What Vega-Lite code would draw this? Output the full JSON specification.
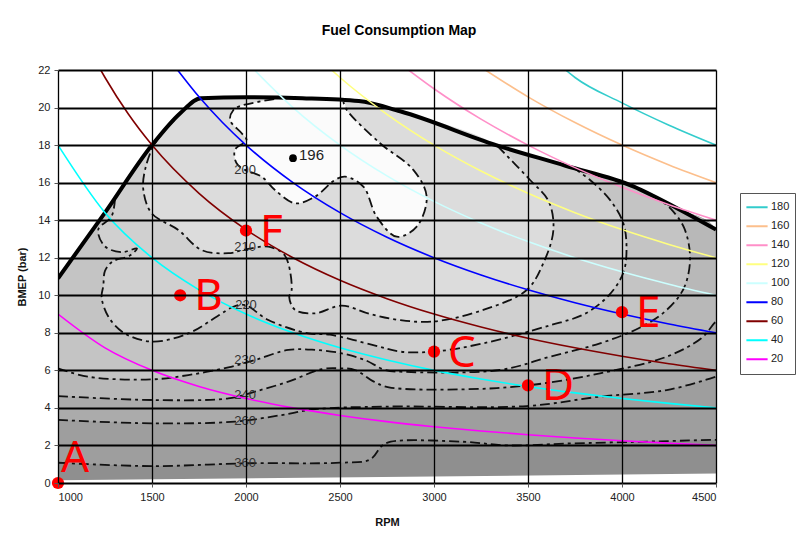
{
  "$schema": "https://vega.github.io/schema/vega-lite/v6.json",
  "width": 658,
  "height": 413,
  "autosize": {"type": "none"},
  "padding": {"left": 58, "top": 70, "right": 84, "bottom": 62},
  "background": "white",
  "config": {"font": "Liberation Sans", "view": {"stroke": null}},
  "title": {"text": "Fuel Consumption Map", "fontSize": 14, "fontWeight": "bold", "color": "#000", "offset": 26, "dx": 12, "font": "Liberation Sans"},
  "datasets": {
    "shapes": [
      {"s":"p0","i":0,"rpm":1000,"bmep":0.15,"c":0},
      {"s":"p0","i":1,"rpm":1000,"bmep":10.9,"c":0},
      {"s":"p0","i":2,"rpm":1250,"bmep":14.4,"c":0},
      {"s":"p0","i":3,"rpm":1500,"bmep":18.0,"c":0},
      {"s":"p0","i":4,"rpm":1650,"bmep":19.7,"c":0},
      {"s":"p0","i":5,"rpm":1760,"bmep":20.5,"c":0},
      {"s":"p0","i":6,"rpm":2000,"bmep":20.55,"c":0},
      {"s":"p0","i":7,"rpm":2300,"bmep":20.5,"c":0},
      {"s":"p0","i":8,"rpm":2600,"bmep":20.35,"c":0},
      {"s":"p0","i":9,"rpm":2820,"bmep":19.8,"c":0},
      {"s":"p0","i":10,"rpm":3330,"bmep":18.0,"c":0},
      {"s":"p0","i":11,"rpm":3700,"bmep":16.9,"c":0},
      {"s":"p0","i":12,"rpm":4060,"bmep":15.8,"c":0},
      {"s":"p0","i":13,"rpm":4165,"bmep":15.3,"c":0},
      {"s":"p0","i":14,"rpm":4300,"bmep":14.6,"c":0},
      {"s":"p0","i":15,"rpm":4500,"bmep":13.5,"c":0},
      {"s":"p0","i":16,"rpm":4500,"bmep":0.5,"c":0},

      {"s":"p360","i":0,"rpm":1000,"bmep":1.08,"c":1},
      {"s":"p360","i":1,"rpm":1500,"bmep":0.9,"c":1},
      {"s":"p360","i":2,"rpm":2000,"bmep":1.05,"c":1},
      {"s":"p360","i":3,"rpm":2500,"bmep":1.08,"c":1},
      {"s":"p360","i":4,"rpm":2660,"bmep":1.25,"c":1},
      {"s":"p360","i":5,"rpm":2720,"bmep":1.95,"c":1},
      {"s":"p360","i":6,"rpm":2770,"bmep":2.2,"c":1},
      {"s":"p360","i":7,"rpm":3150,"bmep":2.2,"c":1},
      {"s":"p360","i":8,"rpm":3400,"bmep":2.0,"c":1},
      {"s":"p360","i":9,"rpm":3700,"bmep":2.1,"c":1},
      {"s":"p360","i":10,"rpm":4200,"bmep":2.22,"c":1},
      {"s":"p360","i":11,"rpm":4480,"bmep":2.3,"c":1},
      {"s":"p360","i":12,"rpm":4500,"bmep":2.3,"c":1},
      {"s":"p360","i":13,"rpm":4500,"bmep":13.5,"c":0},
      {"s":"p360","i":14,"rpm":4300,"bmep":14.6,"c":0},
      {"s":"p360","i":15,"rpm":4165,"bmep":15.3,"c":0},
      {"s":"p360","i":16,"rpm":4060,"bmep":15.8,"c":0},
      {"s":"p360","i":17,"rpm":3700,"bmep":16.9,"c":0},
      {"s":"p360","i":18,"rpm":3330,"bmep":18.0,"c":0},
      {"s":"p360","i":19,"rpm":2820,"bmep":19.8,"c":0},
      {"s":"p360","i":20,"rpm":2600,"bmep":20.35,"c":0},
      {"s":"p360","i":21,"rpm":2300,"bmep":20.5,"c":0},
      {"s":"p360","i":22,"rpm":2000,"bmep":20.55,"c":0},
      {"s":"p360","i":23,"rpm":1760,"bmep":20.5,"c":0},
      {"s":"p360","i":24,"rpm":1650,"bmep":19.7,"c":0},
      {"s":"p360","i":25,"rpm":1500,"bmep":18.0,"c":0},
      {"s":"p360","i":26,"rpm":1250,"bmep":14.4,"c":0},
      {"s":"p360","i":27,"rpm":1000,"bmep":10.9,"c":0},

      {"s":"p260","i":0,"rpm":1000,"bmep":3.36,"c":1},
      {"s":"p260","i":1,"rpm":1500,"bmep":3.18,"c":1},
      {"s":"p260","i":2,"rpm":1941,"bmep":3.27,"c":1},
      {"s":"p260","i":3,"rpm":2190,"bmep":3.62,"c":1},
      {"s":"p260","i":4,"rpm":2367,"bmep":3.93,"c":1},
      {"s":"p260","i":5,"rpm":2739,"bmep":4.07,"c":1},
      {"s":"p260","i":6,"rpm":3493,"bmep":4.1,"c":1},
      {"s":"p260","i":7,"rpm":3883,"bmep":4.6,"c":1},
      {"s":"p260","i":8,"rpm":4238,"bmep":4.95,"c":1},
      {"s":"p260","i":9,"rpm":4480,"bmep":5.6,"c":1},
      {"s":"p260","i":10,"rpm":4500,"bmep":5.66,"c":1},
      {"s":"p260","i":11,"rpm":4500,"bmep":13.5,"c":0},
      {"s":"p260","i":12,"rpm":4300,"bmep":14.6,"c":0},
      {"s":"p260","i":13,"rpm":4165,"bmep":15.3,"c":0},
      {"s":"p260","i":14,"rpm":4060,"bmep":15.8,"c":0},
      {"s":"p260","i":15,"rpm":3700,"bmep":16.9,"c":0},
      {"s":"p260","i":16,"rpm":3330,"bmep":18.0,"c":0},
      {"s":"p260","i":17,"rpm":2820,"bmep":19.8,"c":0},
      {"s":"p260","i":18,"rpm":2600,"bmep":20.35,"c":0},
      {"s":"p260","i":19,"rpm":2300,"bmep":20.5,"c":0},
      {"s":"p260","i":20,"rpm":2000,"bmep":20.55,"c":0},
      {"s":"p260","i":21,"rpm":1760,"bmep":20.5,"c":0},
      {"s":"p260","i":22,"rpm":1650,"bmep":19.7,"c":0},
      {"s":"p260","i":23,"rpm":1500,"bmep":18.0,"c":0},
      {"s":"p260","i":24,"rpm":1250,"bmep":14.4,"c":0},
      {"s":"p260","i":25,"rpm":1000,"bmep":10.9,"c":0},

      {"s":"p240","i":0,"rpm":1000,"bmep":4.63,"c":1},
      {"s":"p240","i":1,"rpm":1500,"bmep":4.42,"c":1},
      {"s":"p240","i":2,"rpm":1906,"bmep":4.51,"c":1},
      {"s":"p240","i":3,"rpm":2048,"bmep":4.87,"c":1},
      {"s":"p240","i":4,"rpm":2225,"bmep":5.4,"c":1},
      {"s":"p240","i":5,"rpm":2402,"bmep":6.06,"c":1},
      {"s":"p240","i":6,"rpm":2489,"bmep":6.11,"c":1},
      {"s":"p240","i":7,"rpm":2580,"bmep":6.02,"c":1},
      {"s":"p240","i":8,"rpm":2680,"bmep":5.4,"c":1},
      {"s":"p240","i":9,"rpm":2760,"bmep":5.1,"c":1},
      {"s":"p240","i":10,"rpm":3156,"bmep":4.99,"c":1},
      {"s":"p240","i":11,"rpm":3500,"bmep":5.2,"c":1},
      {"s":"p240","i":12,"rpm":3883,"bmep":5.84,"c":1},
      {"s":"p240","i":13,"rpm":4238,"bmep":6.73,"c":1},
      {"s":"p240","i":14,"rpm":4420,"bmep":7.7,"c":1},
      {"s":"p240","i":15,"rpm":4490,"bmep":8.5,"c":1},
      {"s":"p240","i":16,"rpm":4500,"bmep":8.6,"c":1},
      {"s":"p240","i":17,"rpm":4500,"bmep":13.5,"c":0},
      {"s":"p240","i":18,"rpm":4300,"bmep":14.6,"c":0},
      {"s":"p240","i":19,"rpm":4165,"bmep":15.3,"c":0},
      {"s":"p240","i":20,"rpm":4060,"bmep":15.8,"c":0},
      {"s":"p240","i":21,"rpm":3700,"bmep":16.9,"c":0},
      {"s":"p240","i":22,"rpm":3330,"bmep":18.0,"c":0},
      {"s":"p240","i":23,"rpm":2820,"bmep":19.8,"c":0},
      {"s":"p240","i":24,"rpm":2600,"bmep":20.35,"c":0},
      {"s":"p240","i":25,"rpm":2300,"bmep":20.5,"c":0},
      {"s":"p240","i":26,"rpm":2000,"bmep":20.55,"c":0},
      {"s":"p240","i":27,"rpm":1760,"bmep":20.5,"c":0},
      {"s":"p240","i":28,"rpm":1650,"bmep":19.7,"c":0},
      {"s":"p240","i":29,"rpm":1500,"bmep":18.0,"c":0},
      {"s":"p240","i":30,"rpm":1250,"bmep":14.4,"c":0},
      {"s":"p240","i":31,"rpm":1000,"bmep":10.9,"c":0},

      {"s":"p230","i":0,"rpm":1000,"bmep":6.11,"c":1},
      {"s":"p230","i":1,"rpm":1161,"bmep":5.66,"c":1},
      {"s":"p230","i":2,"rpm":1500,"bmep":5.52,"c":1},
      {"s":"p230","i":3,"rpm":1693,"bmep":5.75,"c":1},
      {"s":"p230","i":4,"rpm":1906,"bmep":6.16,"c":1},
      {"s":"p230","i":5,"rpm":2048,"bmep":6.55,"c":1},
      {"s":"p230","i":6,"rpm":2225,"bmep":7.09,"c":1},
      {"s":"p230","i":7,"rpm":2367,"bmep":7.09,"c":1},
      {"s":"p230","i":8,"rpm":2509,"bmep":6.91,"c":1},
      {"s":"p230","i":9,"rpm":2633,"bmep":6.55,"c":1},
      {"s":"p230","i":10,"rpm":2739,"bmep":6.02,"c":1},
      {"s":"p230","i":11,"rpm":2819,"bmep":5.93,"c":1},
      {"s":"p230","i":12,"rpm":3351,"bmep":6.02,"c":1},
      {"s":"p230","i":13,"rpm":3617,"bmep":6.73,"c":1},
      {"s":"p230","i":14,"rpm":3883,"bmep":7.44,"c":1},
      {"s":"p230","i":15,"rpm":4100,"bmep":8.3,"c":1},
      {"s":"p230","i":16,"rpm":4238,"bmep":9.22,"c":1},
      {"s":"p230","i":17,"rpm":4330,"bmep":10.4,"c":1},
      {"s":"p230","i":18,"rpm":4362,"bmep":12.0,"c":1},
      {"s":"p230","i":19,"rpm":4330,"bmep":13.6,"c":1},
      {"s":"p230","i":20,"rpm":4260,"bmep":14.6,"c":1},
      {"s":"p230","i":21,"rpm":4195,"bmep":15.15,"c":1},
      {"s":"p230","i":22,"rpm":4060,"bmep":15.8,"c":0},
      {"s":"p230","i":23,"rpm":3700,"bmep":16.9,"c":0},
      {"s":"p230","i":24,"rpm":3330,"bmep":18.0,"c":0},
      {"s":"p230","i":25,"rpm":2820,"bmep":19.8,"c":0},
      {"s":"p230","i":26,"rpm":2600,"bmep":20.35,"c":0},
      {"s":"p230","i":27,"rpm":2300,"bmep":20.5,"c":0},
      {"s":"p230","i":28,"rpm":2000,"bmep":20.55,"c":0},
      {"s":"p230","i":29,"rpm":1760,"bmep":20.5,"c":0},
      {"s":"p230","i":30,"rpm":1650,"bmep":19.7,"c":0},
      {"s":"p230","i":31,"rpm":1500,"bmep":18.0,"c":0},
      {"s":"p230","i":32,"rpm":1250,"bmep":14.4,"c":0},
      {"s":"p230","i":33,"rpm":1000,"bmep":10.9,"c":0},

      {"s":"p220","i":0,"rpm":1303,"bmep":15.15,"c":1},
      {"s":"p220","i":1,"rpm":1285,"bmep":14.2,"c":1},
      {"s":"p220","i":2,"rpm":1214,"bmep":13.5,"c":1},
      {"s":"p220","i":3,"rpm":1250,"bmep":12.6,"c":1},
      {"s":"p220","i":4,"rpm":1339,"bmep":12.3,"c":1},
      {"s":"p220","i":5,"rpm":1420,"bmep":12.5,"c":1},
      {"s":"p220","i":6,"rpm":1380,"bmep":12.1,"c":1},
      {"s":"p220","i":7,"rpm":1290,"bmep":11.8,"c":1},
      {"s":"p220","i":8,"rpm":1250,"bmep":11.3,"c":1},
      {"s":"p220","i":9,"rpm":1241,"bmep":10.5,"c":1},
      {"s":"p220","i":10,"rpm":1232,"bmep":9.9,"c":1},
      {"s":"p220","i":11,"rpm":1268,"bmep":8.86,"c":1},
      {"s":"p220","i":12,"rpm":1350,"bmep":8.0,"c":1},
      {"s":"p220","i":13,"rpm":1500,"bmep":7.53,"c":1},
      {"s":"p220","i":14,"rpm":1693,"bmep":7.97,"c":1},
      {"s":"p220","i":15,"rpm":1850,"bmep":8.9,"c":1},
      {"s":"p220","i":16,"rpm":1933,"bmep":9.39,"c":1},
      {"s":"p220","i":17,"rpm":1995,"bmep":9.48,"c":1},
      {"s":"p220","i":18,"rpm":2119,"bmep":8.68,"c":1},
      {"s":"p220","i":19,"rpm":2331,"bmep":7.97,"c":1},
      {"s":"p220","i":20,"rpm":2447,"bmep":7.9,"c":1},
      {"s":"p220","i":21,"rpm":2677,"bmep":7.35,"c":1},
      {"s":"p220","i":22,"rpm":2819,"bmep":7.0,"c":1},
      {"s":"p220","i":23,"rpm":3000,"bmep":7.0,"c":1},
      {"s":"p220","i":24,"rpm":3262,"bmep":7.44,"c":1},
      {"s":"p220","i":25,"rpm":3617,"bmep":8.4,"c":1},
      {"s":"p220","i":26,"rpm":3800,"bmep":9.0,"c":1},
      {"s":"p220","i":27,"rpm":3930,"bmep":10.0,"c":1},
      {"s":"p220","i":28,"rpm":4007,"bmep":11.2,"c":1},
      {"s":"p220","i":29,"rpm":4024,"bmep":12.4,"c":1},
      {"s":"p220","i":30,"rpm":4007,"bmep":13.84,"c":1},
      {"s":"p220","i":31,"rpm":3936,"bmep":15.08,"c":1},
      {"s":"p220","i":32,"rpm":3830,"bmep":16.14,"c":1},
      {"s":"p220","i":33,"rpm":3740,"bmep":16.8,"c":1},
      {"s":"p220","i":34,"rpm":3700,"bmep":16.9,"c":0},
      {"s":"p220","i":35,"rpm":3330,"bmep":18.0,"c":0},
      {"s":"p220","i":36,"rpm":2820,"bmep":19.8,"c":0},
      {"s":"p220","i":37,"rpm":2600,"bmep":20.35,"c":0},
      {"s":"p220","i":38,"rpm":2300,"bmep":20.5,"c":0},
      {"s":"p220","i":39,"rpm":2000,"bmep":20.55,"c":0},
      {"s":"p220","i":40,"rpm":1760,"bmep":20.5,"c":0},
      {"s":"p220","i":41,"rpm":1650,"bmep":19.7,"c":0},
      {"s":"p220","i":42,"rpm":1500,"bmep":18.0,"c":0},

      {"s":"p210","i":0,"rpm":1620,"bmep":19.35,"c":1},
      {"s":"p210","i":1,"rpm":1516,"bmep":18.1,"c":1},
      {"s":"p210","i":2,"rpm":1463,"bmep":16.68,"c":1},
      {"s":"p210","i":3,"rpm":1454,"bmep":15.61,"c":1},
      {"s":"p210","i":4,"rpm":1498,"bmep":14.37,"c":1},
      {"s":"p210","i":5,"rpm":1640,"bmep":13.48,"c":1},
      {"s":"p210","i":6,"rpm":1764,"bmep":12.41,"c":1},
      {"s":"p210","i":7,"rpm":1906,"bmep":12.24,"c":1},
      {"s":"p210","i":8,"rpm":2000,"bmep":12.45,"c":1},
      {"s":"p210","i":9,"rpm":2119,"bmep":12.59,"c":1},
      {"s":"p210","i":10,"rpm":2200,"bmep":12.2,"c":1},
      {"s":"p210","i":11,"rpm":2225,"bmep":11.7,"c":1},
      {"s":"p210","i":12,"rpm":2243,"bmep":10.3,"c":1},
      {"s":"p210","i":13,"rpm":2230,"bmep":9.9,"c":1},
      {"s":"p210","i":14,"rpm":2261,"bmep":9.22,"c":1},
      {"s":"p210","i":15,"rpm":2367,"bmep":9.04,"c":1},
      {"s":"p210","i":16,"rpm":2509,"bmep":9.45,"c":1},
      {"s":"p210","i":17,"rpm":2660,"bmep":9.0,"c":1},
      {"s":"p210","i":18,"rpm":2819,"bmep":8.68,"c":1},
      {"s":"p210","i":19,"rpm":2995,"bmep":8.6,"c":1},
      {"s":"p210","i":20,"rpm":3262,"bmep":9.22,"c":1},
      {"s":"p210","i":21,"rpm":3493,"bmep":10.28,"c":1},
      {"s":"p210","i":22,"rpm":3581,"bmep":11.7,"c":1},
      {"s":"p210","i":23,"rpm":3635,"bmep":13.48,"c":1},
      {"s":"p210","i":24,"rpm":3610,"bmep":15.0,"c":1},
      {"s":"p210","i":25,"rpm":3511,"bmep":16.14,"c":1},
      {"s":"p210","i":26,"rpm":3333,"bmep":18.0,"c":1},
      {"s":"p210","i":27,"rpm":2820,"bmep":19.8,"c":0},
      {"s":"p210","i":28,"rpm":2600,"bmep":20.35,"c":0},
      {"s":"p210","i":29,"rpm":2300,"bmep":20.5,"c":0},
      {"s":"p210","i":30,"rpm":2000,"bmep":20.55,"c":0},
      {"s":"p210","i":31,"rpm":1760,"bmep":20.5,"c":0},
      {"s":"p210","i":32,"rpm":1650,"bmep":19.7,"c":0},

      {"s":"p200","i":0,"rpm":2150,"bmep":20.45,"c":1},
      {"s":"p200","i":1,"rpm":1968,"bmep":20.08,"c":1},
      {"s":"p200","i":2,"rpm":1933,"bmep":19.87,"c":1},
      {"s":"p200","i":3,"rpm":1915,"bmep":19.34,"c":1},
      {"s":"p200","i":4,"rpm":1977,"bmep":18.63,"c":1},
      {"s":"p200","i":5,"rpm":2003,"bmep":18.27,"c":1},
      {"s":"p200","i":6,"rpm":1941,"bmep":17.74,"c":1},
      {"s":"p200","i":7,"rpm":1950,"bmep":17.03,"c":1},
      {"s":"p200","i":8,"rpm":1995,"bmep":16.68,"c":1},
      {"s":"p200","i":9,"rpm":2083,"bmep":16.32,"c":1},
      {"s":"p200","i":10,"rpm":2154,"bmep":15.61,"c":1},
      {"s":"p200","i":11,"rpm":2261,"bmep":14.9,"c":1},
      {"s":"p200","i":12,"rpm":2367,"bmep":15.25,"c":1},
      {"s":"p200","i":13,"rpm":2473,"bmep":16.14,"c":1},
      {"s":"p200","i":14,"rpm":2527,"bmep":16.32,"c":1},
      {"s":"p200","i":15,"rpm":2624,"bmep":15.79,"c":1},
      {"s":"p200","i":16,"rpm":2695,"bmep":14.19,"c":1},
      {"s":"p200","i":17,"rpm":2802,"bmep":13.12,"c":1},
      {"s":"p200","i":18,"rpm":2908,"bmep":13.66,"c":1},
      {"s":"p200","i":19,"rpm":2961,"bmep":15.25,"c":1},
      {"s":"p200","i":20,"rpm":2890,"bmep":16.68,"c":1},
      {"s":"p200","i":21,"rpm":2713,"bmep":18.1,"c":1},
      {"s":"p200","i":22,"rpm":2536,"bmep":19.87,"c":1},
      {"s":"p200","i":23,"rpm":2518,"bmep":20.3,"c":1},
      {"s":"p200","i":24,"rpm":2300,"bmep":20.5,"c":0}
    ],
    "boundary": [
      {"rpm":1000,"bmep":10.9},{"rpm":1250,"bmep":14.4},{"rpm":1500,"bmep":18.0},{"rpm":1650,"bmep":19.7},
      {"rpm":1760,"bmep":20.5},{"rpm":2000,"bmep":20.55},{"rpm":2300,"bmep":20.5},{"rpm":2600,"bmep":20.35},
      {"rpm":2820,"bmep":19.8},{"rpm":3330,"bmep":18.0},{"rpm":3700,"bmep":16.9},{"rpm":4060,"bmep":15.8},
      {"rpm":4165,"bmep":15.3},{"rpm":4300,"bmep":14.6},{"rpm":4500,"bmep":13.5}
    ],
    "power": [
      {"p":"20","rpm":1000,"bmep":9},{"p":"20","rpm":1250,"bmep":7.2},{"p":"20","rpm":1500,"bmep":6},{"p":"20","rpm":1750,"bmep":5.14},{"p":"20","rpm":2000,"bmep":4.5},{"p":"20","rpm":2250,"bmep":4},{"p":"20","rpm":2500,"bmep":3.6},{"p":"20","rpm":2750,"bmep":3.27},{"p":"20","rpm":3000,"bmep":3},{"p":"20","rpm":3250,"bmep":2.77},{"p":"20","rpm":3500,"bmep":2.57},{"p":"20","rpm":3750,"bmep":2.4},{"p":"20","rpm":4000,"bmep":2.25},{"p":"20","rpm":4250,"bmep":2.12},{"p":"20","rpm":4500,"bmep":2},
      {"p":"40","rpm":1000,"bmep":18},{"p":"40","rpm":1250,"bmep":14.4},{"p":"40","rpm":1500,"bmep":12},{"p":"40","rpm":1750,"bmep":10.29},{"p":"40","rpm":2000,"bmep":9},{"p":"40","rpm":2250,"bmep":8},{"p":"40","rpm":2500,"bmep":7.2},{"p":"40","rpm":2750,"bmep":6.55},{"p":"40","rpm":3000,"bmep":6},{"p":"40","rpm":3250,"bmep":5.54},{"p":"40","rpm":3500,"bmep":5.14},{"p":"40","rpm":3750,"bmep":4.8},{"p":"40","rpm":4000,"bmep":4.5},{"p":"40","rpm":4250,"bmep":4.24},{"p":"40","rpm":4500,"bmep":4},
      {"p":"60","rpm":1227,"bmep":22},{"p":"60","rpm":1250,"bmep":21.6},{"p":"60","rpm":1375,"bmep":19.64},{"p":"60","rpm":1500,"bmep":18},{"p":"60","rpm":1750,"bmep":15.43},{"p":"60","rpm":2000,"bmep":13.5},{"p":"60","rpm":2250,"bmep":12},{"p":"60","rpm":2500,"bmep":10.8},{"p":"60","rpm":2750,"bmep":9.82},{"p":"60","rpm":3000,"bmep":9},{"p":"60","rpm":3250,"bmep":8.31},{"p":"60","rpm":3500,"bmep":7.71},{"p":"60","rpm":3750,"bmep":7.2},{"p":"60","rpm":4000,"bmep":6.75},{"p":"60","rpm":4250,"bmep":6.35},{"p":"60","rpm":4500,"bmep":6},
      {"p":"80","rpm":1636,"bmep":22},{"p":"80","rpm":1750,"bmep":20.57},{"p":"80","rpm":1875,"bmep":19.2},{"p":"80","rpm":2000,"bmep":18},{"p":"80","rpm":2250,"bmep":16},{"p":"80","rpm":2500,"bmep":14.4},{"p":"80","rpm":2750,"bmep":13.09},{"p":"80","rpm":3000,"bmep":12},{"p":"80","rpm":3250,"bmep":11.08},{"p":"80","rpm":3500,"bmep":10.29},{"p":"80","rpm":3750,"bmep":9.6},{"p":"80","rpm":4000,"bmep":9},{"p":"80","rpm":4250,"bmep":8.47},{"p":"80","rpm":4500,"bmep":8},
      {"p":"100","rpm":2045,"bmep":22},{"p":"100","rpm":2250,"bmep":20},{"p":"100","rpm":2500,"bmep":18},{"p":"100","rpm":2750,"bmep":16.36},{"p":"100","rpm":3000,"bmep":15},{"p":"100","rpm":3250,"bmep":13.85},{"p":"100","rpm":3500,"bmep":12.86},{"p":"100","rpm":3750,"bmep":12},{"p":"100","rpm":4000,"bmep":11.25},{"p":"100","rpm":4250,"bmep":10.59},{"p":"100","rpm":4500,"bmep":10},
      {"p":"120","rpm":2455,"bmep":22},{"p":"120","rpm":2500,"bmep":21.6},{"p":"120","rpm":2750,"bmep":19.64},{"p":"120","rpm":3000,"bmep":18},{"p":"120","rpm":3250,"bmep":16.62},{"p":"120","rpm":3500,"bmep":15.43},{"p":"120","rpm":3750,"bmep":14.4},{"p":"120","rpm":4000,"bmep":13.5},{"p":"120","rpm":4250,"bmep":12.71},{"p":"120","rpm":4500,"bmep":12},
      {"p":"140","rpm":2864,"bmep":22},{"p":"140","rpm":3000,"bmep":21},{"p":"140","rpm":3250,"bmep":19.38},{"p":"140","rpm":3500,"bmep":18},{"p":"140","rpm":3750,"bmep":16.8},{"p":"140","rpm":4000,"bmep":15.75},{"p":"140","rpm":4250,"bmep":14.82},{"p":"140","rpm":4500,"bmep":14},
      {"p":"160","rpm":3273,"bmep":22},{"p":"160","rpm":3500,"bmep":20.57},{"p":"160","rpm":3750,"bmep":19.2},{"p":"160","rpm":4000,"bmep":18},{"p":"160","rpm":4250,"bmep":16.94},{"p":"160","rpm":4500,"bmep":16},
      {"p":"180","rpm":3700,"bmep":22},{"p":"180","rpm":3750,"bmep":21.6},{"p":"180","rpm":4000,"bmep":20.25},{"p":"180","rpm":4250,"bmep":19.06},{"p":"180","rpm":4500,"bmep":18}
    ],
    "clabels": [
      {"t":"200","rpm":1995,"bmep":16.68},
      {"t":"210","rpm":1995,"bmep":12.57},
      {"t":"220","rpm":2000,"bmep":9.48},
      {"t":"230","rpm":1995,"bmep":6.55},
      {"t":"240","rpm":1995,"bmep":4.69},
      {"t":"260","rpm":1995,"bmep":3.3},
      {"t":"360","rpm":1995,"bmep":1.08}
    ],
    "best": [{"t":"196","rpm":2250,"bmep":17.3}],
    "points": [
      {"t":"A","rpm":1000,"bmep":0},
      {"t":"B","rpm":1650,"bmep":10.0},
      {"t":"C","rpm":3000,"bmep":7.0},
      {"t":"D","rpm":3500,"bmep":5.2},
      {"t":"E","rpm":4000,"bmep":9.1},
      {"t":"F","rpm":2000,"bmep":13.45}
    ]
  },
  "encoding": {
    "x": {"field": "rpm", "type": "quantitative",
      "scale": {"domain": [1000, 4500], "nice": false, "zero": false},
      "axis": {"values": [1000,1500,2000,2500,3000,3500,4000,4500], "format": "d", "title": "RPM", "grid": true, "gridColor": "#000", "gridWidth": 1.3, "gridOpacity": 1, "domain": false, "tickColor": "#555", "tickSize": 4, "labelFontSize": 11, "labelColor": "#222", "labelPadding": 4, "titleFontSize": 11, "titleFontWeight": "bold", "titleColor": "#111", "titlePadding": 14, "zindex": 1}},
    "y": {"field": "bmep", "type": "quantitative",
      "scale": {"domain": [0, 22], "nice": false},
      "axis": {"values": [0,2,4,6,8,10,12,14,16,18,20,22], "format": "d", "title": "BMEP (bar)", "grid": true, "gridColor": "#000", "gridWidth": 1.8, "gridOpacity": 1, "domain": false, "tickColor": "#555", "tickSize": 4, "labelFontSize": 11, "labelColor": "#222", "labelPadding": 4, "titleFontSize": 11, "titleFontWeight": "bold", "titleColor": "#111", "titlePadding": 10, "zindex": 1}}
  },
  "layer": [
    {"data": {"name": "shapes"}, "transform": [{"filter": "datum.s == 'p0'"}],
     "mark": {"type": "line", "interpolate": "linear", "fill": "#8f8f8f", "strokeWidth": 0, "clip": true},
     "encoding": {"order": {"field": "i", "type": "quantitative"}}},
    {"data": {"name": "shapes"}, "transform": [{"filter": "datum.s == 'p360'"}],
     "mark": {"type": "line", "interpolate": "catmull-rom", "fill": "#9e9e9e", "strokeWidth": 0, "clip": true},
     "encoding": {"order": {"field": "i", "type": "quantitative"}}},
    {"data": {"name": "shapes"}, "transform": [{"filter": "datum.s == 'p260'"}],
     "mark": {"type": "line", "interpolate": "catmull-rom", "fill": "#ababab", "strokeWidth": 0, "clip": true},
     "encoding": {"order": {"field": "i", "type": "quantitative"}}},
    {"data": {"name": "shapes"}, "transform": [{"filter": "datum.s == 'p240'"}],
     "mark": {"type": "line", "interpolate": "catmull-rom", "fill": "#b8b8b8", "strokeWidth": 0, "clip": true},
     "encoding": {"order": {"field": "i", "type": "quantitative"}}},
    {"data": {"name": "shapes"}, "transform": [{"filter": "datum.s == 'p230'"}],
     "mark": {"type": "line", "interpolate": "catmull-rom", "fill": "#c4c4c4", "strokeWidth": 0, "clip": true},
     "encoding": {"order": {"field": "i", "type": "quantitative"}}},
    {"data": {"name": "shapes"}, "transform": [{"filter": "datum.s == 'p220'"}],
     "mark": {"type": "line", "interpolate": "catmull-rom", "fill": "#d0d0d0", "strokeWidth": 0, "clip": true},
     "encoding": {"order": {"field": "i", "type": "quantitative"}}},
    {"data": {"name": "shapes"}, "transform": [{"filter": "datum.s == 'p210'"}],
     "mark": {"type": "line", "interpolate": "catmull-rom", "fill": "#dcdcdc", "strokeWidth": 0, "clip": true},
     "encoding": {"order": {"field": "i", "type": "quantitative"}}},
    {"data": {"name": "shapes"}, "transform": [{"filter": "datum.s == 'p200'"}],
     "mark": {"type": "line", "interpolate": "catmull-rom", "fill": "#fbfbfb", "strokeWidth": 0, "clip": true},
     "encoding": {"order": {"field": "i", "type": "quantitative"}}},
    {"data": {"name": "shapes"}, "transform": [{"filter": "datum.c == 1"}],
     "mark": {"type": "line", "interpolate": "catmull-rom", "color": "#111", "strokeWidth": 1.8, "strokeDash": [10, 4, 3, 4], "clip": true},
     "encoding": {"detail": {"field": "s", "type": "nominal"}, "order": {"field": "i", "type": "quantitative"}}},
    {"data": {"name": "boundary"},
     "mark": {"type": "line", "interpolate": "monotone", "color": "#000", "strokeWidth": 4, "clip": true},
     "encoding": {}},
    {"data": {"name": "power"},
     "mark": {"type": "line", "interpolate": "monotone", "strokeWidth": 1.6, "clip": true},
     "encoding": {"color": {"field": "p", "type": "nominal",
        "scale": {"domain": ["180","160","140","120","100","80","60","40","20"], "range": ["#33cccc","#fcbf8c","#ff8fc8","#ffff80","#ccffff","#0000ff","#800000","#00ffff","#ff00ff"]},
        "legend": {"title": null, "orient": "none", "legendX": 682, "legendY": 123, "symbolType": "stroke", "symbolSize": 450, "symbolStrokeWidth": 2, "strokeColor": "#555", "fillColor": "#fff", "padding": 5, "labelFontSize": 11, "labelColor": "#222", "rowPadding": 0, "clipHeight": 18.5, "labelOffset": 2}}}},
    {"data": {"name": "clabels"},
     "mark": {"type": "text", "fontSize": 13, "color": "#333", "align": "center", "baseline": "middle"},
     "encoding": {"text": {"field": "t"}}},
    {"data": {"name": "best"},
     "mark": {"type": "circle", "size": 60, "color": "#000", "opacity": 1},
     "encoding": {}},
    {"data": {"name": "best"},
     "mark": {"type": "text", "fontSize": 15, "color": "#222", "align": "left", "baseline": "middle", "dx": 6, "dy": -3},
     "encoding": {"text": {"field": "t"}}},
    {"data": {"name": "points"},
     "mark": {"type": "circle", "size": 150, "color": "#ff0000", "opacity": 1, "clip": false},
     "encoding": {}},
    {"data": {"name": "points"}, "transform": [{"filter": "datum.t != 'A'"}],
     "mark": {"type": "text", "fontSize": 44, "font": "Noto Sans", "color": "#ff0000", "align": "left", "baseline": "middle", "dx": 14, "dy": 2},
     "encoding": {"text": {"field": "t"}}},
    {"data": {"name": "points"}, "transform": [{"filter": "datum.t == 'A'"}],
     "mark": {"type": "text", "fontSize": 44, "font": "Noto Sans", "color": "#ff0000", "align": "left", "baseline": "middle", "dx": 3, "dy": -24},
     "encoding": {"text": {"field": "t"}}}
  ]
}
